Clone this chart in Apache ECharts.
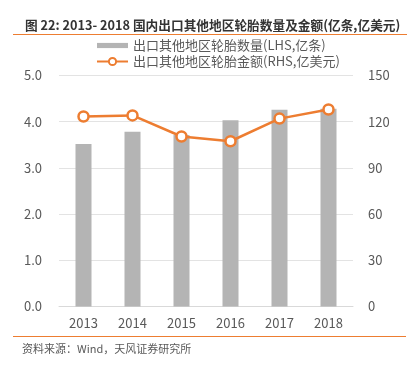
<!DOCTYPE html>
<html><head><meta charset="utf-8">
<script src="https://cdn.jsdelivr.net/npm/echarts@6/dist/echarts.min.js"></script>
<style>html,body{margin:0;padding:0;background:#fff}#c{width:414px;height:370px}</style>
</head><body><div id="c"></div>
<script>
var categories = ['2013','2014','2015','2016','2017','2018'];
var quantity = [3.52, 3.78, 3.71, 4.03, 4.26, 4.28];
var amount = [123.4, 124.1, 110.4, 107.3, 122.0, 127.9];
var leftTicks = [0, 5, 1];
var rightTicks = [0, 150, 30];
var titleText = '图 22: 2013- 2018 国内出口其他地区轮胎数量及金额(亿条,亿美元)';
var sourceText = '资料来源：Wind，天风证券研究所';
var seriesNames = ['出口其他地区轮胎数量(LHS,亿条)', '出口其他地区轮胎金额(RHS,亿美元)'];

var FONT = '"Noto Sans CJK SC", "Open Sans", sans-serif';
var chart = echarts.init(document.getElementById('c'));
chart.setOption({
  animation: false,
  textStyle: {fontFamily: FONT},
  title: {
    text: titleText, left: 20, top: 14,
    textStyle: {fontSize: 12.7, fontWeight: 'bold', color: '#333', fontFamily: FONT}
  },
  graphic: [
    {type: 'line', shape: {x1: 13, y1: 34.5, x2: 407, y2: 34.5}, style: {stroke: '#ED7D31', lineWidth: 1}},
    {type: 'line', shape: {x1: 13, y1: 336.5, x2: 406, y2: 336.5}, style: {stroke: '#ED7D31', lineWidth: 1}},
    {type: 'text', left: 22, top: 343, style: {text: sourceText, fontSize: 11, fill: '#595959', fontFamily: FONT}}
  ],
  legend: {
    orient: 'vertical', left: 91, top: 34, itemGap: 3,
    itemWidth: 31, itemHeight: 9,
    textStyle: {fontSize: 13, color: '#595959', fontFamily: FONT},
    data: [
      {name: seriesNames[0], icon: 'path://M0,0L30,0L30,5L0,5Z', itemStyle: {color: '#B4B4B4'}},
      {name: seriesNames[1]}
    ]
  },
  grid: {left: 59, right: 61, top: 75.5, bottom: 63.5},
  xAxis: {
    type: 'category', data: categories,
    axisLine: {lineStyle: {color: '#D9D9D9', width: 1}},
    axisTick: {show: false},
    axisLabel: {fontSize: 13, color: '#595959', margin: 10, fontFamily: FONT}
  },
  yAxis: [
    {type: 'value', min: leftTicks[0], max: leftTicks[1], interval: leftTicks[2],
     axisLabel: {fontSize: 13, color: '#595959', margin: 17, formatter: function(v){return v.toFixed(1);}, fontFamily: FONT},
     splitLine: {lineStyle: {color: '#E3E3E3', width: 1}},
     axisLine: {show: false}, axisTick: {show: false}},
    {type: 'value', min: rightTicks[0], max: rightTicks[1], interval: rightTicks[2],
     axisLabel: {fontSize: 13, color: '#595959', margin: 15, fontFamily: FONT},
     splitLine: {show: false},
     axisLine: {show: false}, axisTick: {show: false}}
  ],
  series: [
    {name: seriesNames[0], type: 'bar', data: quantity, yAxisIndex: 0,
     barWidth: 16, itemStyle: {color: '#B4B4B4'}},
    {name: seriesNames[1], type: 'line', data: amount, yAxisIndex: 1,
     symbol: 'circle', symbolSize: 10,
     lineStyle: {color: '#ED7D31', width: 2.5},
     itemStyle: {color: '#fff', borderColor: '#ED7D31', borderWidth: 2.5}}
  ]
});
</script></body></html>
